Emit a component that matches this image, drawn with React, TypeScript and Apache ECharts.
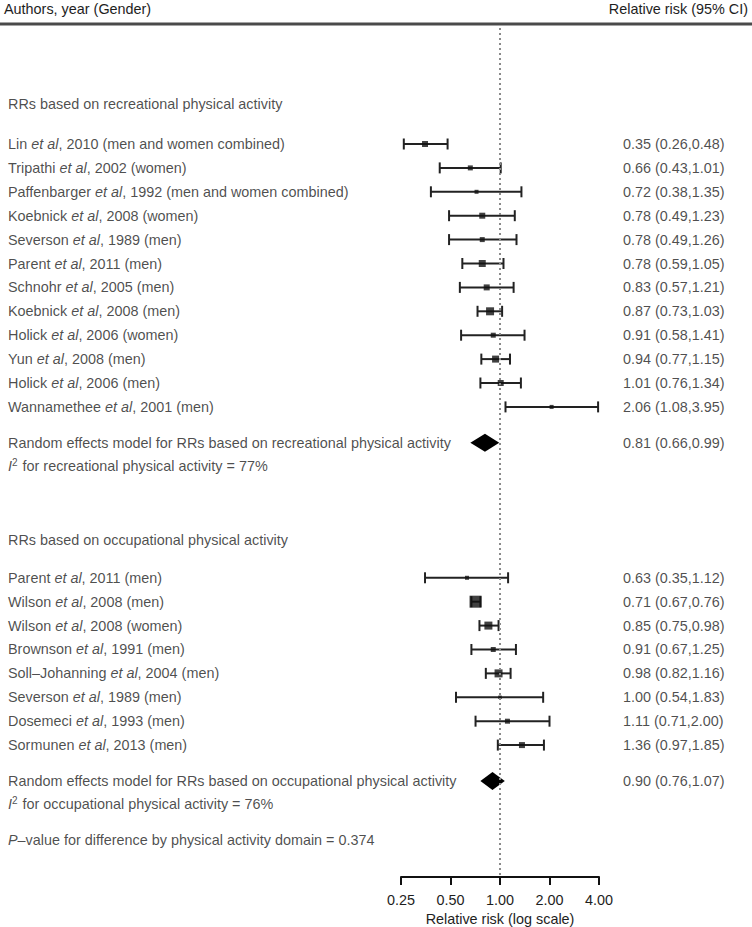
import React, { useEffect, useRef } from "react";
import * as echarts from "echarts";

// ---------- data ----------
const recAuthors = ["Lin", "Tripathi", "Paffenbarger", "Koebnick", "Severson", "Parent", "Schnohr", "Koebnick", "Holick", "Yun", "Holick", "Wannamethee"];
const recYears = [2010, 2002, 1992, 2008, 1989, 2011, 2005, 2008, 2006, 2008, 2006, 2001];
const recGroups = ["men and women combined", "women", "men and women combined", "women", "men", "men", "men", "men", "women", "men", "men", "men"];
const recRR = [0.35, 0.66, 0.72, 0.78, 0.78, 0.78, 0.83, 0.87, 0.91, 0.94, 1.01, 2.06];
const recLo = [0.26, 0.43, 0.38, 0.49, 0.49, 0.59, 0.57, 0.73, 0.58, 0.77, 0.76, 1.08];
const recHi = [0.48, 1.01, 1.35, 1.23, 1.26, 1.05, 1.21, 1.03, 1.41, 1.15, 1.34, 3.95];
const recWeight = [6, 5, 4, 6, 5, 7, 6, 8, 5, 7, 6, 4];

const occAuthors = ["Parent", "Wilson", "Wilson", "Brownson", "Soll–Johanning", "Severson", "Dosemeci", "Sormunen"];
const occYears = [2011, 2008, 2008, 1991, 2004, 1989, 1993, 2013];
const occGroups = ["men", "men", "women", "men", "men", "men", "men", "men"];
const occRR = [0.63, 0.71, 0.85, 0.91, 0.98, 1.0, 1.11, 1.36];
const occLo = [0.35, 0.67, 0.75, 0.67, 0.82, 0.54, 0.71, 0.97];
const occHi = [1.12, 0.76, 0.98, 1.25, 1.16, 1.83, 2.0, 1.85];
const occWeight = [4, 12, 8, 5, 8, 3.5, 5, 6];

const recSummary = [0.81, 0.66, 0.99]; // est, lo, hi
const occSummary = [0.9, 0.76, 1.07];
const recI2 = 77;
const occI2 = 76;
const pDiff = 0.374;

const xTicks = [0.25, 0.5, 1, 2, 4];

// ---------- layout (row units) ----------
const ROW = 23.9;
const TOP = 28;
const BOTTOM = 877;
const FIRST_ROW_PX = 144;
const Y_MIN = (TOP - FIRST_ROW_PX) / ROW;
const Y_MAX = (BOTTOM - FIRST_ROW_PX) / ROW;

const recHeadPos = -1.67;
const recStart = 0;
const recSumPos = 12.5;
const recI2Pos = 13.47;
const occHeadPos = 16.57;
const occStart = 18.15;
const occSumPos = 26.65;
const occI2Pos = 27.62;
const pPos = 29.12;

const FONT = "'Liberation Sans', Arial, Helvetica, sans-serif";
const FS = 14.4;
const TXT = "#1e1e1e";

const fmt = (v: number) => v.toFixed(2);
const ciText = (e: number, l: number, h: number) => `${fmt(e)} (${fmt(l)},${fmt(h)})`;
const study = (a: string, y: number, g: string) => `{n|${a} }{i|et al}{n|, ${y} (${g})}`;

export default function App() {
  const ref = useRef<HTMLDivElement>(null);

  useEffect(() => {
    if (!ref.current) return;
    const chart = echarts.init(ref.current, undefined, { renderer: "svg" });

    const recPos = recRR.map((_, i) => recStart + i);
    const occPos = occRR.map((_, i) => occStart + i);

    const leftTexts: { pos: number; text: string }[] = [];
    const rightTexts: { pos: number; text: string }[] = [];
    leftTexts.push({ pos: recHeadPos, text: "{n|RRs based on recreational physical activity}" });
    recAuthors.forEach((a, i) => {
      leftTexts.push({ pos: recPos[i], text: study(a, recYears[i], recGroups[i]) });
      rightTexts.push({ pos: recPos[i], text: ciText(recRR[i], recLo[i], recHi[i]) });
    });
    leftTexts.push({ pos: recSumPos, text: "{n|Random effects model for RRs based on recreational physical activity}" });
    rightTexts.push({ pos: recSumPos, text: ciText(recSummary[0], recSummary[1], recSummary[2]) });
    leftTexts.push({ pos: recI2Pos, text: `{i|I}{s|2}{n| for recreational physical activity = ${recI2}%}` });
    leftTexts.push({ pos: occHeadPos, text: "{n|RRs based on occupational physical activity}" });
    occAuthors.forEach((a, i) => {
      leftTexts.push({ pos: occPos[i], text: study(a, occYears[i], occGroups[i]) });
      rightTexts.push({ pos: occPos[i], text: ciText(occRR[i], occLo[i], occHi[i]) });
    });
    leftTexts.push({ pos: occSumPos, text: "{n|Random effects model for RRs based on occupational physical activity}" });
    rightTexts.push({ pos: occSumPos, text: ciText(occSummary[0], occSummary[1], occSummary[2]) });
    leftTexts.push({ pos: occI2Pos, text: `{i|I}{s|2}{n| for occupational physical activity = ${occI2}%}` });
    leftTexts.push({ pos: pPos, text: `{i|P}{n|–value for difference by physical activity domain = ${pDiff}}` });

    const rich = {
      n: { fontSize: FS, fontFamily: FONT, color: TXT, lineHeight: 17 },
      i: { fontSize: FS, fontFamily: FONT, color: TXT, fontStyle: "italic", lineHeight: 17 },
      s: { fontSize: 10, fontFamily: FONT, color: TXT, lineHeight: 17, verticalAlign: "top", padding: [0, 1, 6, 0] },
    };

    const ciData = [
      ...recRR.map((_, i) => [recLo[i], recHi[i], recPos[i]]),
      ...occRR.map((_, i) => [occLo[i], occHi[i], occPos[i]]),
    ];
    const ptData = [
      ...recRR.map((v, i) => [v, recPos[i], recWeight[i]]),
      ...occRR.map((v, i) => [v, occPos[i], occWeight[i]]),
    ];
    const diaData = [
      [recSummary[1], recSummary[0], recSummary[2], recSumPos],
      [occSummary[1], occSummary[0], occSummary[2], occSumPos],
    ];

    const CAP = 5.5;
    const DIA = 9;

    const hiddenX = (gi: number) => ({ gridIndex: gi, type: "value", min: 0, max: 1, show: false });
    const yAx = (gi: number) => ({ gridIndex: gi, type: "value", inverse: true, min: Y_MIN, max: Y_MAX, show: false });
    const gridBase = { top: TOP, height: BOTTOM - TOP, containLabel: false, outerBoundsMode: "none" };

    chart.setOption({
      animation: false,
      backgroundColor: "#fff",
      grid: [
        { ...gridBase, left: 8, width: 10 },
        { ...gridBase, left: 401, width: 198 },
        { ...gridBase, left: 623, width: 10 },
      ],
      xAxis: [
        hiddenX(0),
        {
          gridIndex: 1,
          type: "log",
          logBase: 2,
          min: xTicks[0],
          max: xTicks[xTicks.length - 1],
          splitNumber: xTicks.length - 1,
          axisLine: { show: true, onZero: false, lineStyle: { color: "#111", width: 2 } },
          axisTick: { show: true, length: 8, lineStyle: { color: "#111", width: 2 } },
          axisLabel: {
            margin: 16,
            color: TXT,
            fontSize: FS,
            fontFamily: FONT,
            formatter: (v: number) => fmt(v),
          },
          splitLine: { show: false },
          minorTick: { show: false },
          name: "Relative risk (log scale)",
          nameLocation: "middle",
          nameGap: 35,
          nameTextStyle: { color: TXT, fontSize: FS, fontFamily: FONT },
        },
        hiddenX(2),
      ],
      yAxis: [yAx(0), yAx(1), yAx(2)],
      graphic: [
        {
          type: "line",
          shape: { x1: 0, y1: 24, x2: 752, y2: 24 },
          style: { stroke: "#4a4a4a", lineWidth: 3 },
        },
        {
          type: "text",
          x: 4,
          y: 9,
          style: { text: "Authors, year (Gender)", fontSize: FS, fontFamily: FONT, fill: TXT, verticalAlign: "middle", align: "left" },
        },
        {
          type: "text",
          x: 748,
          y: 9,
          style: { text: "Relative risk (95% CI)", fontSize: FS, fontFamily: FONT, fill: TXT, verticalAlign: "middle", align: "right" },
        },
      ],
      series: [
        {
          type: "scatter",
          xAxisIndex: 0,
          yAxisIndex: 0,
          symbolSize: 0,
          silent: true,
          data: leftTexts.map((t) => [0, t.pos]),
          label: {
            show: true,
            position: "right",
            distance: 0,
            align: "left",
            verticalAlign: "middle",
            formatter: (p: any) => leftTexts[p.dataIndex].text,
            rich,
          },
        },
        {
          type: "scatter",
          xAxisIndex: 2,
          yAxisIndex: 2,
          symbolSize: 0,
          silent: true,
          data: rightTexts.map((t) => [0, t.pos]),
          label: {
            show: true,
            position: "right",
            distance: 0,
            align: "left",
            verticalAlign: "middle",
            color: TXT,
            fontSize: FS,
            fontFamily: FONT,
            formatter: (p: any) => rightTexts[p.dataIndex].text,
          },
        },
        {
          type: "custom",
          xAxisIndex: 1,
          yAxisIndex: 1,
          z: 2,
          silent: true,
          encode: { x: [0, 1], y: 2 },
          data: ciData,
          renderItem: (params: any, api: any) => {
            const y = api.value(2);
            const a = api.coord([api.value(0), y]);
            const b = api.coord([api.value(1), y]);
            const st = { stroke: "#222", lineWidth: 2 };
            return {
              type: "group",
              children: [
                { type: "line", shape: { x1: a[0], y1: a[1], x2: b[0], y2: b[1] }, style: st },
                { type: "line", shape: { x1: a[0], y1: a[1] - CAP, x2: a[0], y2: a[1] + CAP }, style: st },
                { type: "line", shape: { x1: b[0], y1: b[1] - CAP, x2: b[0], y2: b[1] + CAP }, style: st },
              ],
            };
          },
        },
        {
          type: "line",
          xAxisIndex: 1,
          yAxisIndex: 1,
          z: 3,
          data: [],
          markLine: {
            silent: true,
            symbol: "none",
            label: { show: false },
            lineStyle: { type: [2, 3], color: "#8a8a8a", width: 2 },
            data: [{ xAxis: 1 }],
          },
        },
        {
          type: "scatter",
          xAxisIndex: 1,
          yAxisIndex: 1,
          z: 4,
          silent: true,
          symbol: "rect",
          symbolSize: (v: number[]) => v[2],
          itemStyle: { color: "#111" },
          data: ptData,
        },
        {
          type: "custom",
          xAxisIndex: 1,
          yAxisIndex: 1,
          z: 4,
          silent: true,
          encode: { x: [0, 1, 2], y: 3 },
          data: diaData,
          renderItem: (params: any, api: any) => {
            const y = api.value(3);
            const l = api.coord([api.value(0), y]);
            const e = api.coord([api.value(1), y]);
            const h = api.coord([api.value(2), y]);
            return {
              type: "polygon",
              shape: { points: [[l[0], l[1]], [e[0], e[1] - DIA], [h[0], h[1]], [e[0], e[1] + DIA]] },
              style: { fill: "#000" },
            };
          },
        },
      ],
    });

    return () => chart.dispose();
  }, []);

  return <div ref={ref} style={{ position: "absolute", left: 0, top: 0, width: 752, height: 927 }} />;
}
